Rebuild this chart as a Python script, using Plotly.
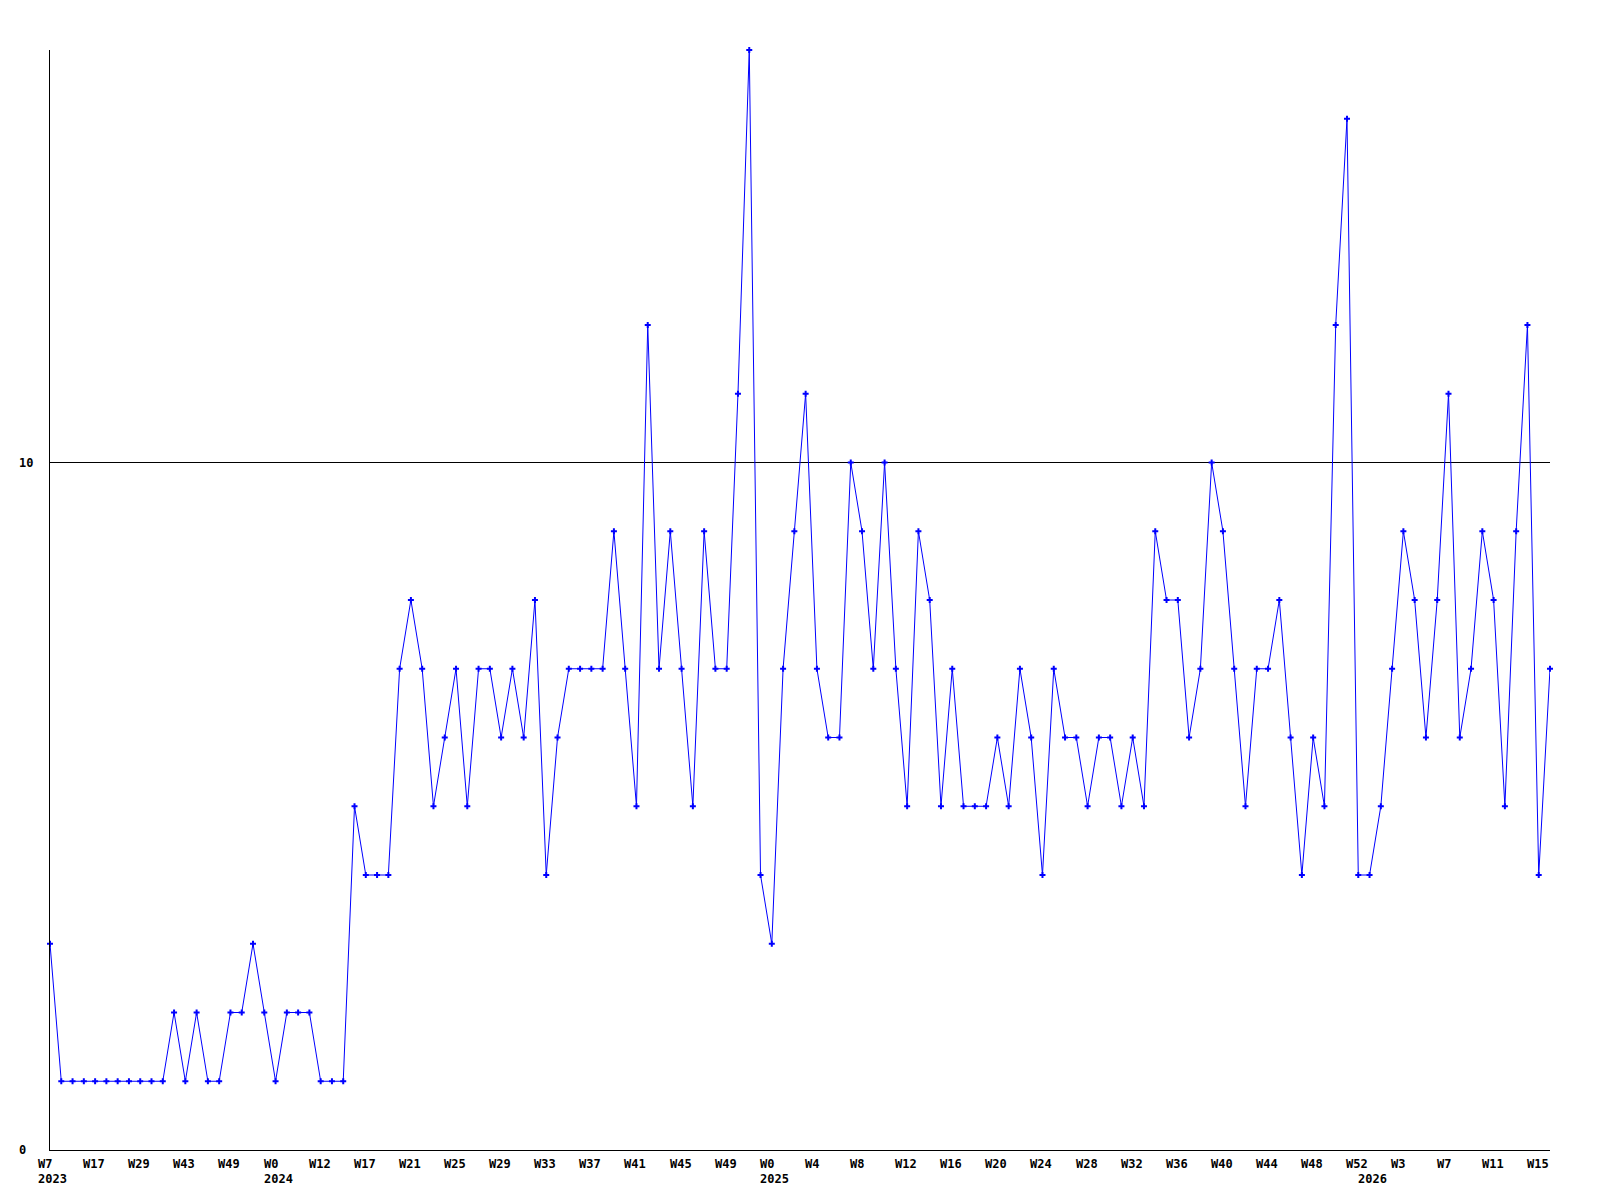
import plotly.graph_objects as go

# weekly counts, one per week shown on the x axis
counts = [3, 1, 1, 1, 1, 1, 1, 1, 1, 1, 1, 2, 1, 2, 1, 1, 2, 2, 3, 2,
          1, 2, 2, 2, 1, 1, 1, 5, 4, 4, 4, 7, 8, 7, 5, 6, 7, 5, 7, 7,
          6, 7, 6, 8, 4, 6, 7, 7, 7, 7, 9, 7, 5, 12, 7, 9, 7, 5, 9, 7,
          7, 11, 16, 4, 3, 7, 9, 11, 7, 6, 6, 10, 9, 7, 10, 7, 5, 9, 8, 5,
          7, 5, 5, 5, 6, 5, 7, 6, 4, 7, 6, 6, 5, 6, 6, 5, 6, 5, 9, 8,
          8, 6, 7, 10, 9, 7, 5, 7, 7, 8, 6, 4, 6, 5, 12, 15, 4, 4, 5, 7,
          9, 8, 6, 8, 11, 6, 7, 9, 8, 5, 9, 12, 4, 7]

# tick labels, one every 4th week
week_ticks = ["W7", "W17", "W29", "W43", "W49", "W0", "W12", "W17", "W21", "W25",
              "W29", "W33", "W37", "W41", "W45", "W49", "W0", "W4", "W8", "W12",
              "W16", "W20", "W24", "W28", "W32", "W36", "W40", "W44", "W48", "W52",
              "W3", "W7", "W11", "W15"]
tick_step = 4
# year labels sit under the first week of each year
year_index = [0, 20, 64, 117]
year_text = ["2023", "2024", "2025", "2026"]

y_ticks = [0, 10]

x = list(range(len(counts)))
font = dict(family="DejaVu Sans Mono", size=12, color="black")

fig = go.Figure()
fig.add_trace(go.Scatter(x=x, y=counts, mode="lines+markers",
                         line=dict(color="#0000ff", width=1),
                         marker=dict(symbol="cross", size=5, color="#0000ff"),
                         cliponaxis=False, showlegend=False))

annotations = []
for k, lbl in enumerate(week_ticks):
    annotations.append(dict(x=k * tick_step, xref="x", y=0, yref="paper",
                            text="<b>" + lbl + "</b>",
                            xanchor="left", yanchor="top",
                            xshift=-14, yshift=-5, showarrow=False, font=font))
for idx, yr in zip(year_index, year_text):
    annotations.append(dict(x=idx, xref="x", y=0, yref="paper",
                            text="<b>" + yr + "</b>",
                            xanchor="left", yanchor="top",
                            xshift=-14, yshift=-20, showarrow=False, font=font))
for v in y_ticks:
    annotations.append(dict(x=0, xref="paper", y=v, yref="y", text="<b>%d</b>" % v,
                            xanchor="left", yanchor="middle", xshift=-33,
                            showarrow=False, font=font))

# page body has an 8px margin, so the figure is a bit smaller and shifted
fig.update_layout(width=1592, height=1192,
                  margin=dict(l=42, r=50, t=42, b=50),
                  plot_bgcolor="white", paper_bgcolor="white",
                  annotations=annotations)
fig.update_xaxes(range=[0, len(counts) - 1], showgrid=False, zeroline=False,
                 showline=True, linecolor="black", linewidth=1,
                 showticklabels=False, ticks="")
fig.update_yaxes(range=[0, 16], tickvals=[10], showgrid=True, gridcolor="black",
                 gridwidth=1, zeroline=False, showline=True, linecolor="black",
                 linewidth=1, showticklabels=False, ticks="")

fig.write_html("out.html")
